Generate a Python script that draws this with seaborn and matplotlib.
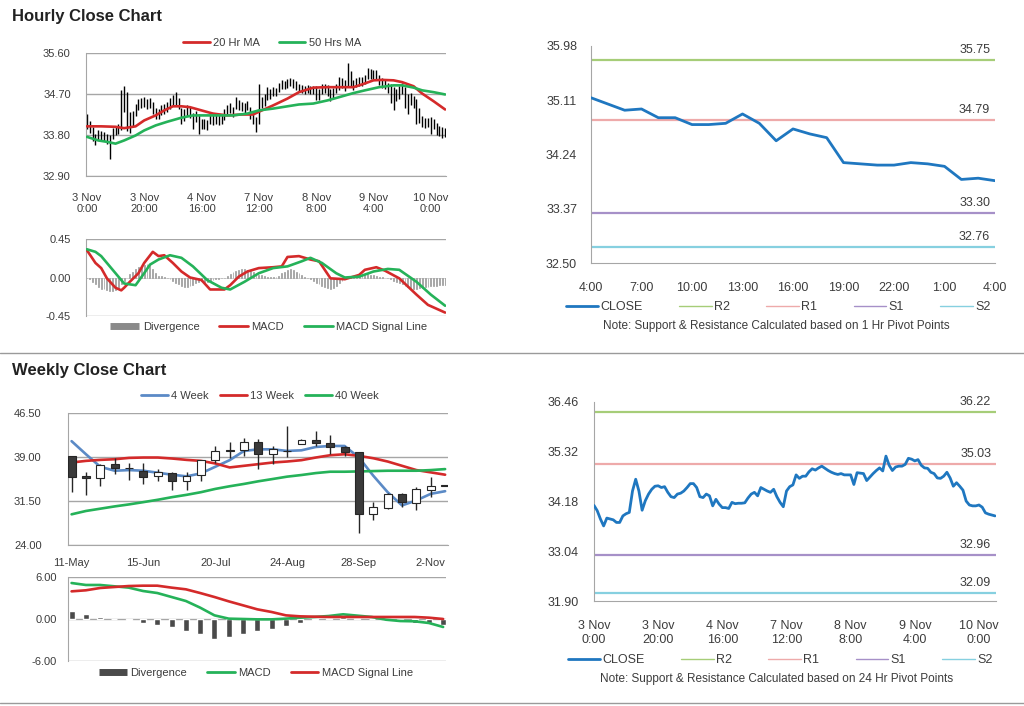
import numpy as np
import seaborn as sns
import matplotlib.pyplot as plt
from matplotlib.lines import Line2D
from matplotlib.ticker import FormatStrFormatter

sns.set_style("white")
plt.rcParams['font.family'] = ['Liberation Sans', 'DejaVu Sans']

RED = '#d42a2a'
GREEN = '#25b259'
BLUE = '#1f77c0'
WK_BLUE = '#5b8ac6'
GRID = '#a6a6a6'
TXT = '#3c3c3c'

# ---------------- hourly data (3 Nov 0:00 -> 10 Nov 5:00) ----------------
hourly_close = [
    34.09, 33.97, 33.78, 33.62, 33.80, 33.78, 33.76, 33.70, 33.70, 33.85,
    33.90, 33.93, 34.42, 34.69, 34.42, 33.98, 34.20, 34.35, 34.46, 34.53,
    34.54, 34.50, 34.52, 34.39, 34.29, 34.27, 34.35, 34.37, 34.42, 34.50,
    34.59, 34.59, 34.50, 34.29, 34.27, 34.35, 34.31, 34.08, 34.23, 34.12,
    34.04, 34.04, 34.02, 34.16, 34.13, 34.14, 34.14, 34.15, 34.26, 34.35,
    34.39, 34.31, 34.50, 34.46, 34.42, 34.39, 34.46, 34.29, 34.16, 34.06,
    34.42, 34.52, 34.56, 34.79, 34.71, 34.76, 34.76, 34.86, 34.93, 34.90,
    34.95, 34.99, 34.94, 34.89, 34.85, 34.82, 34.80, 34.82, 34.79, 34.79,
    34.79, 34.57, 34.84, 34.83, 34.82, 34.66, 34.74, 34.82, 34.89, 34.95,
    34.88, 35.22, 35.01, 34.89, 34.97, 34.99, 34.99, 35.03, 35.17, 35.15,
    35.11, 35.14, 35.01, 34.95, 34.94, 34.85, 34.82, 34.72, 34.71, 34.76,
    34.85, 34.72, 34.53, 34.61, 34.53, 34.44, 34.19, 34.10, 34.08, 34.08,
    34.10, 34.05, 33.92, 33.89, 33.87, 33.85]
hourly_high = [
    34.27, 34.10, 33.98, 33.82, 33.90, 33.88, 33.86, 33.82, 33.80, 33.95,
    34.00, 34.05, 34.78, 34.87, 34.75, 34.30, 34.32, 34.48, 34.58, 34.62,
    34.64, 34.60, 34.61, 34.52, 34.40, 34.38, 34.45, 34.48, 34.52, 34.62,
    34.68, 34.74, 34.62, 34.40, 34.38, 34.45, 34.42, 34.28, 34.33, 34.25,
    34.16, 34.15, 34.14, 34.26, 34.24, 34.25, 34.23, 34.25, 34.36, 34.46,
    34.50, 34.42, 34.63, 34.56, 34.52, 34.50, 34.55, 34.42, 34.28, 34.20,
    34.91, 34.64, 34.70, 34.86, 34.82, 34.85, 34.84, 34.94, 35.00, 34.98,
    35.02, 35.05, 35.02, 34.98, 34.93, 34.90, 34.88, 34.90, 34.88, 34.87,
    34.88, 34.82, 34.92, 34.92, 34.90, 34.80, 34.84, 34.92, 35.07, 35.05,
    35.00, 35.37, 35.20, 35.00, 35.06, 35.08, 35.08, 35.12, 35.26, 35.24,
    35.22, 35.23, 35.12, 35.05, 35.03, 34.95, 34.92, 34.85, 34.82, 34.88,
    34.94, 34.86, 34.70, 34.72, 34.66, 34.58, 34.40, 34.22, 34.18, 34.17,
    34.20, 34.16, 34.06, 34.00, 33.97, 33.95]
hourly_low = [
    33.94, 33.84, 33.66, 33.58, 33.68, 33.68, 33.66, 33.60, 33.28, 33.72,
    33.80, 33.82, 33.90, 34.30, 33.88, 33.85, 34.00, 34.22, 34.34, 34.40,
    34.42, 34.38, 34.40, 34.26, 34.15, 34.16, 34.24, 34.26, 34.30, 34.38,
    34.46, 34.45, 34.36, 34.05, 34.10, 34.22, 34.18, 33.94, 34.08, 33.83,
    33.94, 33.93, 33.92, 34.04, 34.03, 34.04, 34.03, 34.05, 34.14, 34.24,
    34.28, 34.20, 34.38, 34.35, 34.32, 34.28, 34.34, 34.16, 34.04, 33.87,
    34.04, 34.40, 34.44, 34.56, 34.60, 34.65, 34.65, 34.74, 34.82, 34.80,
    34.84, 34.88, 34.84, 34.78, 34.75, 34.72, 34.70, 34.72, 34.70, 34.69,
    34.56, 34.56, 34.70, 34.73, 34.66, 34.54, 34.62, 34.72, 34.78, 34.84,
    34.76, 34.86, 34.88, 34.78, 34.86, 34.88, 34.88, 34.92, 35.04, 35.04,
    35.00, 35.02, 34.90, 34.84, 34.82, 34.72, 34.50, 34.34, 34.55, 34.60,
    34.70, 34.40, 34.27, 34.45, 34.40, 34.05, 34.06, 33.98, 33.96, 33.97,
    33.83, 33.94, 33.80, 33.78, 33.74, 33.76]
hourly_div = [
    0.00, -0.02, -0.05, -0.08, -0.11, -0.13, -0.14, -0.15, -0.16, -0.16,
    -0.15, -0.12, -0.08, -0.04, 0.00, 0.04, 0.07, 0.10, 0.12, 0.14,
    0.15, 0.16, 0.16, 0.10, 0.05, 0.02, 0.02, 0.01, -0.01, -0.02,
    -0.04, -0.06, -0.08, -0.10, -0.11, -0.11, -0.10, -0.09, -0.07, -0.05,
    -0.04, -0.05, -0.05, -0.04, -0.03, -0.02, -0.02, -0.01, 0.00, 0.02,
    0.04, 0.06, 0.08, 0.09, 0.10, 0.10, 0.09, 0.08, 0.06, 0.04,
    0.03, 0.03, 0.02, 0.01, 0.01, 0.01, 0.01, 0.02, 0.05, 0.07,
    0.09, 0.10, 0.09, 0.07, 0.05, 0.03, 0.01, 0.00, -0.02, -0.04,
    -0.06, -0.08, -0.10, -0.11, -0.12, -0.13, -0.12, -0.10, -0.07, -0.04,
    -0.02, 0.00, 0.01, 0.02, 0.03, 0.03, 0.04, 0.04, 0.04, 0.03,
    0.03, 0.02, 0.01, 0.01, 0.00, -0.01, -0.02, -0.04, -0.05, -0.06,
    -0.08, -0.10, -0.11, -0.12, -0.13, -0.13, -0.12, -0.12, -0.11, -0.11,
    -0.10, -0.10, -0.10, -0.09, -0.09, -0.09]
hours = list(range(len(hourly_close)))

ma20_hours = [0, 5, 10, 13, 17, 20, 24, 27, 30, 33, 36, 40, 44, 49, 54, 58, 60,
              65, 70, 74, 79, 84, 88, 93, 96, 100, 103, 107, 110, 114, 117, 121, 125]
ma20_vals = [33.99, 33.99, 33.98, 33.95, 33.99, 34.12, 34.23, 34.34, 34.43, 34.43,
             34.41, 34.34, 34.27, 34.23, 34.25, 34.25, 34.31, 34.45, 34.60, 34.74,
             34.84, 34.85, 34.85, 34.85, 34.91, 35.00, 35.01, 35.00, 34.96, 34.87,
             34.71, 34.54, 34.36]
ma50_hours = [0, 4, 7, 10, 13, 17, 20, 24, 28, 33, 37, 42, 47, 51, 56, 60, 65,
              70, 74, 79, 84, 88, 93, 97, 102, 107, 110, 114, 117, 121, 125]
ma50_vals = [33.76, 33.68, 33.65, 33.61, 33.68, 33.79, 33.90, 34.01, 34.09, 34.18,
             34.23, 34.23, 34.23, 34.23, 34.27, 34.34, 34.38, 34.43, 34.47, 34.49,
             34.56, 34.63, 34.72, 34.78, 34.85, 34.89, 34.89, 34.84, 34.78, 34.74,
             34.69]

macd_hours = [0, 3, 5, 7, 10, 12, 13, 15, 18, 20, 23, 25, 27, 30, 33, 36, 40, 43,
              48, 50, 53, 56, 60, 65, 68, 70, 74, 78, 81, 85, 90, 95, 97, 101, 104,
              109, 115, 119, 125]
macd_vals = [0.32, 0.17, 0.11, -0.01, -0.12, -0.15, -0.12, -0.05, 0.05, 0.17,
             0.30, 0.25, 0.26, 0.17, 0.07, 0.00, -0.03, -0.14, -0.14, -0.09,
             0.01, 0.07, 0.11, 0.12, 0.13, 0.24, 0.25, 0.21, 0.19, -0.01,
             -0.02, 0.03, 0.09, 0.12, 0.08, -0.01, -0.20, -0.32, -0.41]
signal_hours = [0, 3, 5, 7, 10, 13, 17, 20, 22, 25, 29, 33, 37, 42, 47, 50, 55, 60,
                65, 70, 75, 78, 82, 87, 90, 95, 100, 105, 109, 115, 120, 125]
signal_vals = [0.33, 0.30, 0.25, 0.17, 0.05, -0.07, -0.09, 0.05, 0.15, 0.21,
               0.26, 0.23, 0.13, -0.03, -0.12, -0.14, -0.05, 0.05, 0.11, 0.13,
               0.19, 0.23, 0.17, 0.05, 0.00, 0.01, 0.07, 0.10, 0.09, -0.05,
               -0.20, -0.33]

hour_tick_pos = [0, 20, 40, 60, 80, 100, 120]
hour_tick_labels = ['3 Nov\n0:00', '3 Nov\n20:00', '4 Nov\n16:00', '7 Nov\n12:00',
                    '8 Nov\n8:00', '9 Nov\n4:00', '10 Nov\n0:00']

# ---------------- last 24 hours, 1 hr pivots ----------------
pivot1_close = [35.15, 35.05, 34.95, 34.97, 34.83, 34.83, 34.72, 34.72, 34.74,
                34.89, 34.74, 34.46, 34.65, 34.57, 34.51, 34.11, 34.09, 34.07,
                34.07, 34.11, 34.09, 34.05, 33.84, 33.86, 33.82]
pivot1_hours = list(range(len(pivot1_close)))
pivot1_labels = ['4:00', '7:00', '10:00', '13:00', '16:00', '19:00', '22:00', '1:00', '4:00']
pivot1_levels = [35.75, 34.79, 33.30, 32.76]
pivot1_yticks = [32.50, 33.37, 34.24, 35.11, 35.98]

pivot24_levels = [36.22, 35.03, 32.96, 32.09]
pivot24_yticks = [31.90, 33.04, 34.18, 35.32, 36.46]

level_names = ['R2', 'R1', 'S1', 'S2']
level_colors = ['#a6cd78', '#eeaaaa', '#a690c8', '#86d0e0']

# ---------------- weekly data ----------------
weekly_open = [39.10, 35.70, 35.36, 37.78, 37.15, 36.66, 35.70, 36.26, 34.97, 35.98,
               38.57, 40.14, 40.14, 41.55, 39.47, 40.09, 41.27, 41.83, 41.44, 40.71,
               39.86, 29.23, 30.36, 32.72, 31.15, 33.40, 34.20]
weekly_close = [35.65, 35.40, 37.67, 37.11, 37.05, 35.65, 36.38, 34.97, 35.81, 38.51,
                40.03, 40.03, 41.55, 39.47, 40.31, 39.98, 41.83, 41.38, 40.71, 39.86,
                29.23, 30.47, 32.72, 31.31, 33.56, 34.13, 34.10]
weekly_high = [39.10, 36.49, 37.78, 38.91, 38.06, 38.06, 36.94, 36.49, 36.38, 38.51,
               40.88, 41.49, 42.17, 42.00, 40.88, 44.36, 42.00, 43.41, 42.73, 40.88,
               39.86, 31.31, 32.83, 32.83, 33.96, 35.65, 34.20]
weekly_low = [33.11, 32.44, 34.13, 36.09, 35.14, 34.41, 34.97, 33.40, 33.40, 34.97,
              38.06, 38.91, 39.19, 36.94, 37.78, 39.02, 41.16, 40.88, 39.47, 39.19,
              25.97, 28.33, 30.19, 30.47, 30.02, 32.16, 34.10]
wk_ma4 = [41.70, 39.47, 37.33, 36.66, 36.77, 36.66, 36.32, 35.98, 35.70, 36.21,
          37.33, 38.46, 40.03, 40.31, 40.31, 40.03, 40.14, 40.71, 40.88, 40.88,
          38.91, 35.81, 33.00, 30.75, 31.60, 32.72, 33.17]
wk_ma13 = [38.06, 38.34, 38.51, 38.62, 38.85, 38.91, 38.91, 38.74, 38.51, 38.34,
           37.90, 37.22, 37.50, 37.78, 38.06, 38.23, 38.46, 38.91, 39.30, 39.47,
           39.19, 38.79, 38.23, 37.50, 36.77, 36.38, 35.98]
wk_ma40 = [29.23, 29.80, 30.19, 30.58, 30.92, 31.31, 31.71, 32.16, 32.55, 33.00,
           33.56, 34.01, 34.41, 34.86, 35.25, 35.65, 35.93, 36.26, 36.49, 36.49,
           36.54, 36.60, 36.66, 36.66, 36.66, 36.77, 36.94]
wk_macd = [5.14, 4.86, 4.86, 4.67, 4.48, 4.00, 3.71, 3.14, 2.57, 1.62, 0.52, 0.05,
           0.00, -0.05, -0.05, 0.05, 0.19, 0.29, 0.43, 0.67, 0.48, 0.29, -0.10,
           -0.29, -0.33, -0.57, -1.14]
wk_signal = [3.95, 4.10, 4.43, 4.57, 4.71, 4.76, 4.76, 4.48, 4.24, 3.71, 3.14, 2.52,
             1.95, 1.38, 1.00, 0.52, 0.38, 0.33, 0.29, 0.29, 0.29, 0.29, 0.29, 0.29,
             0.29, 0.19, 0.00]
wk_div = [1.10, 0.70, 0.35, 0.05, -0.15, -0.60, -0.90, -1.20, -1.70, -2.20, -2.80,
          -2.60, -2.20, -1.70, -1.40, -1.00, -0.50, -0.15, 0.10, 0.35, 0.20, 0.05,
          -0.15, -0.30, -0.50, -0.60, -0.90]
weeks = list(range(len(weekly_close)))
week_tick_pos = [0, 5, 10, 15, 20, 25]
week_tick_labels = ['11-May', '15-Jun', '20-Jul', '24-Aug', '28-Sep', '2-Nov']

# ---------------- figure ----------------
W, H = 1024, 706
fig = plt.figure(figsize=(W / 100, H / 100), dpi=100)


def add_ax(x0, y0, x1, y1):
    return fig.add_axes([x0 / W, 1 - y1 / H, (x1 - x0) / W, (y1 - y0) / H])


def fxy(x, y):
    return (x / W, 1 - y / H)


def style(ax, ypad, size=8):
    sns.despine(ax=ax)
    ax.spines['left'].set_color(GRID)
    ax.spines['bottom'].set_color(GRID)
    ax.tick_params(axis='both', labelcolor=TXT, labelsize=size, length=0, color=GRID)
    ax.tick_params(axis='y', pad=ypad)
    ax.yaxis.set_major_formatter(FormatStrFormatter('%.2f'))
    ax.set_xlabel('')
    ax.set_ylabel('')


def drop_legend(ax):
    if ax.get_legend() is not None:
        ax.get_legend().remove()


def line(color, lw=2):
    return Line2D([], [], color=color, lw=lw)


def bar_handle(color):
    return Line2D([], [], color=color, lw=5, solid_capstyle='butt')


# titles and separators
fig.text(12 / W, 1 - 16 / H, 'Hourly Close Chart', fontsize=12, fontweight='bold',
         color='#222222', va='center')
fig.text(12 / W, 1 - 370 / H, 'Weekly Close Chart', fontsize=12, fontweight='bold',
         color='#222222', va='center')
for yy in [353, 703]:
    fig.add_artist(Line2D([0, 1], [1 - yy / H] * 2, color='#9a9a9a', lw=1,
                          transform=fig.transFigure))

# --- hourly bars with MAs
ax1 = add_ax(86, 53, 446, 176)
for y in [32.90, 33.80, 34.70, 35.60]:
    ax1.axhline(y, color=GRID, lw=1, zorder=0)
ax1.vlines(hours, hourly_low, hourly_high, color='black', lw=1.0, zorder=2)
sns.lineplot(x=ma20_hours, y=ma20_vals, ax=ax1, color=RED, lw=1.9, zorder=3)
sns.lineplot(x=ma50_hours, y=ma50_vals, ax=ax1, color=GREEN, lw=1.9, zorder=3)
ax1.set_xlim(-0.3, 125.3)
ax1.set_ylim(32.90, 35.60)
ax1.set_yticks([32.90, 33.80, 34.70, 35.60])
ax1.set_xticks(hour_tick_pos)
ax1.set_xticklabels(hour_tick_labels)
style(ax1, 11)
ax1.tick_params(axis='x', length=3, pad=9)
fig.legend(handles=[line(RED), line(GREEN)], labels=['20 Hr MA', '50 Hrs MA'],
           loc='center', bbox_to_anchor=fxy(272, 43), ncol=2, frameon=False,
           fontsize=8, handlelength=2.4, handletextpad=0.3, columnspacing=1.7,
           labelcolor=TXT)

# --- hourly MACD
ax2 = add_ax(86, 239, 446, 316)
for y in [-0.45, 0.45]:
    ax2.axhline(y, color=GRID, lw=1, zorder=0)
ax2.axhline(0, color='#d0d0d0', lw=0.6, zorder=0)
ax2.bar(hours, hourly_div, width=0.3, color='#9a9a9a', edgecolor='#9a9a9a',
        lw=0.5, zorder=1)
sns.lineplot(x=macd_hours, y=macd_vals, ax=ax2, color=RED, lw=1.9, zorder=3)
sns.lineplot(x=signal_hours, y=signal_vals, ax=ax2, color=GREEN, lw=1.9, zorder=3)
ax2.set_xlim(-0.3, 125.3)
ax2.set_ylim(-0.45, 0.45)
ax2.set_yticks([-0.45, 0.0, 0.45])
ax2.set_xticks([])
style(ax2, 11)
ax2.spines['bottom'].set_visible(False)
fig.legend(handles=[bar_handle('#8a8a8a'), line(RED), line(GREEN)],
           labels=['Divergence', 'MACD', 'MACD Signal Line'],
           loc='center', bbox_to_anchor=fxy(269, 327), ncol=3, frameon=False,
           fontsize=8, handlelength=2.6, handletextpad=0.3, columnspacing=1.8,
           labelcolor=TXT)


def pivot_panel(ax, x, y, levels, xmax, ticks, labels, lw):
    sns.lineplot(x=x, y=y, ax=ax, color=BLUE, lw=lw, zorder=3)
    for val, col in zip(levels, level_colors):
        ax.axhline(val, color=col, lw=1.6, zorder=1)
        ax.annotate(f'{val:.2f}', xy=(0.988, val), xycoords=('axes fraction', 'data'),
                    xytext=(0, 3), textcoords='offset points', ha='right',
                    va='bottom', fontsize=9, color=TXT)
    ax.set_xlim(0, xmax)
    ax.set_xticks(ticks)
    ax.set_xticklabels(labels)


# --- 1 hr pivot panel
ax3 = add_ax(591, 46, 995, 263)
pivot_panel(ax3, pivot1_hours, pivot1_close, pivot1_levels, 24,
            list(range(0, 25, 3)), pivot1_labels, 2.0)
ax3.set_ylim(32.50, 35.98)
ax3.set_yticks(pivot1_yticks)
style(ax3, 7, size=9)
ax3.tick_params(axis='both', length=3)
ax3.tick_params(axis='x', pad=11)
fig.legend(handles=[line(BLUE, 2)] + [line(c, 1) for c in level_colors],
           labels=['CLOSE'] + level_names, loc='center', bbox_to_anchor=fxy(778, 307),
           ncol=5, frameon=False, fontsize=9, handlelength=2.6, handletextpad=0.2,
           columnspacing=2.9, labelcolor=TXT)
fig.text(776 / W, 1 - 326 / H,
         'Note: Support & Resistance Calculated based on 1 Hr Pivot Points',
         ha='center', va='center', fontsize=8.5, color=TXT)

# --- weekly candles
ax4 = add_ax(68, 413, 448, 545)
for y in [24.00, 31.50, 39.00, 46.50]:
    ax4.axhline(y, color=GRID, lw=1, zorder=0)
sns.lineplot(x=weeks, y=wk_ma4, ax=ax4, color=WK_BLUE, lw=1.9, zorder=2)
sns.lineplot(x=weeks, y=wk_ma13, ax=ax4, color=RED, lw=1.9, zorder=2)
sns.lineplot(x=weeks, y=wk_ma40, ax=ax4, color=GREEN, lw=1.9, zorder=2)
ax4.vlines(weeks, weekly_low, weekly_high, color='#262626', lw=1, zorder=3)
body_bottom = np.minimum(weekly_open, weekly_close)
body_height = np.abs(np.array(weekly_close) - np.array(weekly_open))
body_color = ['white' if c >= o else '#3a3a3a' for o, c in zip(weekly_open, weekly_close)]
ax4.bar(weeks, body_height, bottom=body_bottom, width=0.55, color=body_color,
        edgecolor='#262626', lw=0.8, zorder=4)
ax4.set_xlim(-0.25, 26.2)
ax4.set_ylim(24.0, 46.5)
ax4.set_yticks([24.00, 31.50, 39.00, 46.50])
ax4.set_xticks(week_tick_pos)
ax4.set_xticklabels(week_tick_labels)
style(ax4, 19)
ax4.tick_params(axis='x', pad=9)
fig.legend(handles=[line(WK_BLUE), line(RED), line(GREEN)],
           labels=['4 Week', '13 Week', '40 Week'], loc='center',
           bbox_to_anchor=fxy(260, 396), ncol=3, frameon=False, fontsize=8,
           handlelength=2.4, handletextpad=0.3, columnspacing=1.0, labelcolor=TXT)

# --- weekly MACD
ax5 = add_ax(68, 577, 446, 661)
for y in [-6.0, 0.0, 6.0]:
    ax5.axhline(y, color=GRID, lw=1, zorder=0)
ax5.bar(weeks, wk_div, width=0.42, color='#4a4a4a', zorder=1)
sns.lineplot(x=weeks, y=wk_macd, ax=ax5, color=GREEN, lw=1.9, zorder=3)
sns.lineplot(x=weeks, y=wk_signal, ax=ax5, color=RED, lw=1.9, zorder=3)
ax5.set_xlim(-0.25, 26.2)
ax5.set_ylim(-6.0, 6.0)
ax5.set_yticks([-6.0, 0.0, 6.0])
ax5.set_xticks([])
style(ax5, 8)
ax5.spines['bottom'].set_visible(False)
fig.legend(handles=[bar_handle('#4a4a4a'), line(GREEN), line(RED)],
           labels=['Divergence', 'MACD', 'MACD Signal Line'], loc='center',
           bbox_to_anchor=fxy(256, 673), ncol=3, frameon=False, fontsize=8,
           handlelength=2.5, handletextpad=0.3, columnspacing=1.8, labelcolor=TXT)

# --- 24 hr pivot panel
ax6 = add_ax(594, 402, 996, 601)
pivot_panel(ax6, hours, hourly_close, pivot24_levels, 125.3,
            hour_tick_pos, hour_tick_labels, 2.0)
ax6.set_ylim(31.90, 36.46)
ax6.set_yticks(pivot24_yticks)
style(ax6, 8, size=9)
ax6.tick_params(axis='both', length=3)
ax6.tick_params(axis='x', pad=11)
fig.legend(handles=[line(BLUE, 2)] + [line(c, 1) for c in level_colors],
           labels=['CLOSE'] + level_names, loc='center', bbox_to_anchor=fxy(780, 660),
           ncol=5, frameon=False, fontsize=9, handlelength=2.6, handletextpad=0.2,
           columnspacing=2.9, labelcolor=TXT)
fig.text(777 / W, 1 - 679 / H,
         'Note: Support & Resistance Calculated based on 24 Hr Pivot Points',
         ha='center', va='center', fontsize=8.5, color=TXT)

for ax in [ax1, ax2, ax3, ax4, ax5, ax6]:
    drop_legend(ax)

fig.savefig('out.png', dpi=100)
